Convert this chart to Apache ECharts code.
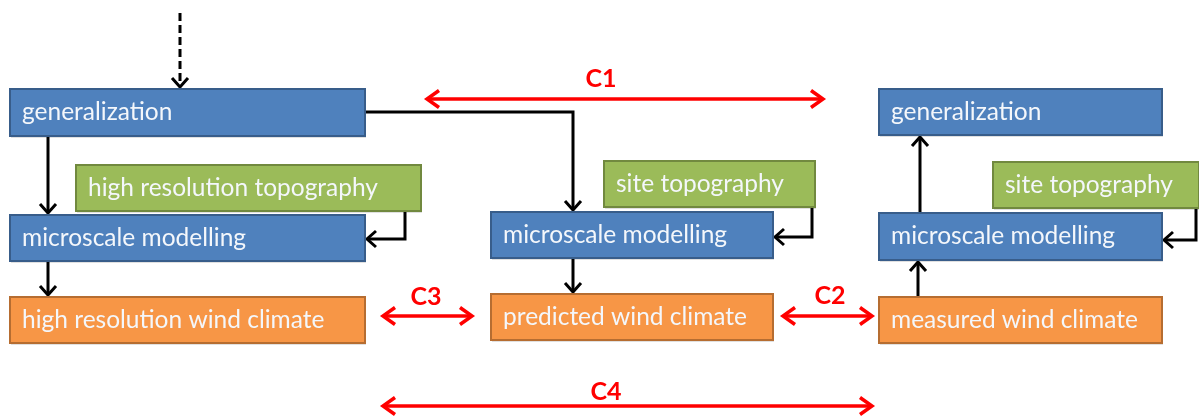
<!DOCTYPE html>
<html><head><meta charset="utf-8">
<script src="https://cdn.jsdelivr.net/npm/echarts@6/dist/echarts.min.js"></script>
<style>html,body{margin:0;padding:0;background:#fff}#c{width:1199px;height:416px}</style>
</head><body><div id="c"></div>
<script>
// Diagram content (positions in diagram units, same scale as the picture)
const boxLabels = ['generalization','high resolution topography','microscale modelling','high resolution wind climate',
  'microscale modelling','site topography','predicted wind climate',
  'generalization','site topography','microscale modelling','measured wind climate'];
const boxKinds = ['process','input','process','output','process','input','output','process','input','process','output'];
const boxRects = [[10,89,365,136],[76,165,421,211],[10,215,365,261],[10,297,365,343],
  [491,212,773,258],[604,161,815,207],[491,294,773,340],
  [879,89,1162,135],[993,162,1199,208],[879,213,1162,260],[879,297,1162,343]];
const flowPaths = [
  [[48,137],[48,213]],
  [[48,261],[48,295]],
  [[405,211],[405,239],[367,239]],
  [[365,112],[573,112],[573,210]],
  [[573,258],[573,292]],
  [[812,207],[812,237],[775,237]],
  [[918,297],[918,262]],
  [[920,213],[920,137]],
  [[1196,208],[1196,240],[1164,240]]
];
const inputPath = [[180,13],[180,87]];
const compLabels = ['C1','C2','C3','C4'];
const compSpans = [[427,823,99],[783,872,316],[383,472,316],[383,872,406]];
const compLabelPos = [[601,79],[830,296],[426,297],[606,392]];

const kindStyle = {process:['#4F81BD','#385D8A'], input:['#9BBB59','#71893F'], output:['#F79646','#B66D31']};

function chevron(api, a, b, L, W){
  const p = api.coord(a), t = api.coord(b);
  let dx=t[0]-p[0], dy=t[1]-p[1]; const n=Math.hypot(dx,dy)||1; dx/=n; dy/=n;
  const bx=t[0]-dx*L, by=t[1]-dy*L;
  return [[bx-dy*W, by+dx*W],[t[0],t[1]],[bx+dy*W, by-dx*W]];
}

const chart = echarts.init(document.getElementById('c'), null, {renderer:'canvas'});
chart.setOption({
  animation:false,
  grid:{left:0,right:0,top:0,bottom:0},
  xAxis:{type:'value',min:0,max:1199,show:false},
  yAxis:{type:'value',min:0,max:416,inverse:true,show:false},
  series:[
    {type:'custom', data:boxRects.map((r,i)=>[i]), z:2,
     renderItem:function(params, api){
       const i = api.value(0); const r = boxRects[i];
       const p0 = api.coord([r[0],r[1]]), p1 = api.coord([r[2],r[3]]);
       const s = kindStyle[boxKinds[i]];
       return {type:'group', children:[
         {type:'rect', shape:{x:p0[0]+1,y:p0[1]+2,width:p1[0]-p0[0],height:p1[1]-p0[1]}, style:{fill:'rgba(0,0,0,0.12)'}},
         {type:'rect', shape:{x:p0[0],y:p0[1],width:p1[0]-p0[0],height:p1[1]-p0[1]}, style:{fill:s[0],stroke:s[1],lineWidth:2}},
         {type:'text', style:{text:boxLabels[i], x:p0[0]+12, y:(p0[1]+p1[1])/2, verticalAlign:'middle', fill:'#F4F7FB', fontSize:24.5, fontFamily:'Lato'}}
       ]};
     }},
    {type:'custom', data:flowPaths.map((r,i)=>[i]), z:1,
     renderItem:function(params, api){
       const pts = flowPaths[api.value(0)];
       const n = pts.length;
       return {type:'group', children:[
         {type:'polyline', shape:{points:pts.map(p=>api.coord(p))}, style:{stroke:'#000',lineWidth:3,fill:null}},
         {type:'polyline', shape:{points:chevron(api,pts[n-2],pts[n-1],9,8)}, style:{stroke:'#000',lineWidth:3,fill:null}}
       ]};
     }},
    {type:'custom', data:[[0]], z:1,
     renderItem:function(params, api){
       return {type:'group', children:[
         {type:'polyline', shape:{points:inputPath.map(p=>api.coord(p))}, style:{stroke:'#000',lineWidth:3,lineDash:[8,4],fill:null}},
         {type:'polyline', shape:{points:chevron(api,inputPath[0],inputPath[1],9,8)}, style:{stroke:'#000',lineWidth:3,fill:null}}
       ]};
     }},
    {type:'custom', data:compSpans.map((r,i)=>[i]), z:3,
     renderItem:function(params, api){
       const i = api.value(0); const s = compSpans[i];
       const a=[s[0],s[2]], b=[s[1],s[2]];
       const lp = api.coord(compLabelPos[i]);
       return {type:'group', children:[
         {type:'polyline', shape:{points:[api.coord(a),api.coord(b)]}, style:{stroke:'#FF0000',lineWidth:3.5,fill:null}},
         {type:'polyline', shape:{points:chevron(api,a,b,12,8.5)}, style:{stroke:'#FF0000',lineWidth:3.5,fill:null}},
         {type:'polyline', shape:{points:chevron(api,b,a,12,8.5)}, style:{stroke:'#FF0000',lineWidth:3.5,fill:null}},
         {type:'text', style:{text:compLabels[i], x:lp[0], y:lp[1], align:'center', verticalAlign:'middle', fill:'#FF0000', fontSize:25, fontWeight:'bold', fontFamily:'Lato'}}
       ]};
     }}
  ]
});
</script></body></html>
